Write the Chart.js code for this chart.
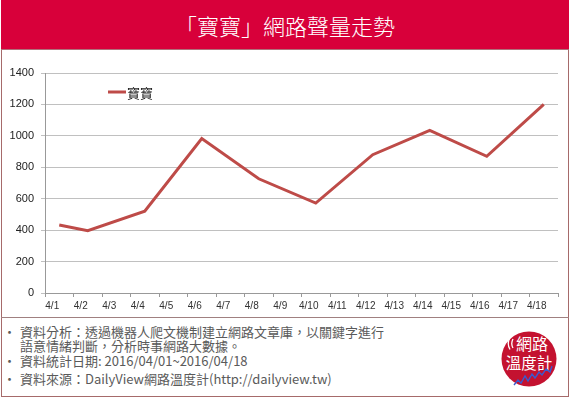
<!DOCTYPE html>
<html>
<head>
<meta charset="utf-8">
<script src="https://cdn.jsdelivr.net/npm/chart.js@4/dist/chart.umd.min.js"></script>
<style>
  html, body { margin: 0; padding: 0; background: #fff; }
  body { width: 570px; height: 399px; position: relative; overflow: hidden;
         font-family: "Noto Sans CJK TC", "Noto Sans", sans-serif; }
  #frame { position: absolute; left: 1px; top: 0px; width: 566px; height: 396px;
           border: 1px solid #A66A6A; border-top: none; }
  #banner { position: absolute; left: 1px; top: 0px; width: 568px; height: 49px;
            background: #D8003A; border-bottom: 1px solid #B0707A; }
  #title { position: absolute; left: 0; top: 0; width: 568px; height: 49px;
           line-height: 51px; text-align: center; color: #fff; font-size: 22px;
           font-weight: 300; letter-spacing: 0px; }
  #chartBox { position: absolute; left: 2px; top: 51px; width: 566px; height: 266px; }
  #sep { position: absolute; left: 1px; top: 317px; width: 568px; height: 1px; background: #A08080; }
  .foot { position: absolute; left: 3px; font-size: 13px; color: #5A5A5A; white-space: nowrap; line-height: 16px; }
  .foot .b { display: inline-block; width: 17px; }
  #logo { position: absolute; left: 500px; top: 330px; }
</style>
</head>
<body>
<div id="frame"></div>
<div id="banner"><div id="title">「寶寶」網路聲量走勢</div></div>
<div id="chartBox"><canvas id="c" width="566" height="266"></canvas></div>
<div id="sep"></div>
<div class="foot" style="top:324px"><span class="b">·</span>資料分析：透過機器人爬文機制建立網路文章庫，以關鍵字進行</div>
<div class="foot" style="top:338px"><span class="b"></span>語意情緒判斷，分析時事網路大數據。</div>
<div class="foot" style="top:353px"><span class="b">·</span>資料統計日期: 2016/04/01~2016/04/18</div>
<div class="foot" style="top:371px"><span class="b">·</span>資料來源：DailyView網路溫度計(http://dailyview.tw)</div>
<svg id="logo" width="60" height="60" viewBox="0 0 60 60">
  <circle cx="29" cy="29" r="27.5" fill="#C41230"/>
  <text x="32" y="20" fill="#fff" font-size="16" text-anchor="middle" font-family="Noto Sans CJK TC">網路</text>
  <path d="M13 9 Q10.5 13.5 13 18 M10 8 Q6.5 13.5 10 19.5" stroke="#fff" stroke-width="1.3" fill="none"/>
  <text x="29" y="39" fill="#fff" font-size="15.5" text-anchor="middle" font-family="Noto Sans CJK TC">溫度計</text>
  <polyline points="14,55 18,50 21,53 25,46 28,51 32,44 35,48 39,42 42,45 46,39 50,42 52,36" stroke="#3A5BD0" stroke-width="1.4" fill="none"/>
</svg>
<script>
const categories = ["4/1","4/2","4/3","4/4","4/5","4/6","4/7","4/8","4/9","4/10","4/11","4/12","4/13","4/14","4/15","4/16","4/17","4/18"];
const seriesName = "寶寶";
const seriesValues = [433, 396, null, 520, null, 983, null, 727, null, 572, null, 880, null, 1035, null, 870, null, 1200];
const yTicks = [0, 200, 400, 600, 800, 1000, 1200, 1400];

const lineColor = '#BE4B48';

const legendInside = {
  id: 'legendInside',
  afterDraw(chart) {
    const ctx = chart.ctx;
    const ds = chart.data.datasets[0];
    const a = chart.chartArea;
    const x0 = a.left + 63, y0 = a.top + 19;
    ctx.save();
    ctx.strokeStyle = ds.borderColor;
    ctx.lineWidth = 3;
    ctx.beginPath();
    ctx.moveTo(x0, y0);
    ctx.lineTo(x0 + 18, y0);
    ctx.stroke();
    ctx.fillStyle = '#222';
    ctx.font = '13px "Noto Sans CJK TC"';
    ctx.textBaseline = 'middle';
    ctx.textAlign = 'left';
    ctx.fillText(ds.label, x0 + 19, y0 + 1);
    ctx.restore();
  }
};

new Chart(document.getElementById('c'), {
  type: 'line',
  data: {
    labels: categories,
    datasets: [{
      label: seriesName,
      data: seriesValues,
      borderColor: lineColor,
      backgroundColor: lineColor,
      borderWidth: 3,
      pointRadius: 0,
      tension: 0,
      spanGaps: true,
      borderJoinStyle: 'miter'
    }]
  },
  options: {
    responsive: false,
    animation: false,
    devicePixelRatio: 1,
    layout: { padding: { top: 22, right: 10, bottom: 0, left: 0 } },
    plugins: { legend: { display: false }, tooltip: { enabled: false } },
    scales: {
      x: {
        offset: true,
        grid: { offset: true, drawOnChartArea: false, drawTicks: true, tickLength: 4, color: '#999' },
        border: { color: '#999', width: 1 },
        ticks: {
          color: '#333', font: { size: 10, family: 'Liberation Sans' },
          maxRotation: 0, minRotation: 0, autoSkip: false, padding: 3, labelOffset: -7
        },
        afterFit(s) { s.height = 24; }
      },
      y: {
        min: 0, max: 1400,
        afterBuildTicks(s) { s.ticks = yTicks.map(v => ({ value: v })); },
        grid: { color: '#C0C0C0', tickLength: 4, drawTicks: true },
        border: { color: '#999', width: 1 },
        ticks: { color: '#222', font: { size: 11, family: 'Liberation Sans' }, padding: 7,
                 callback: (v) => String(v) },
        afterFit(s) { s.width = 43; }
      }
    }
  },
  plugins: [legendInside]
});
</script>
</body>
</html>
